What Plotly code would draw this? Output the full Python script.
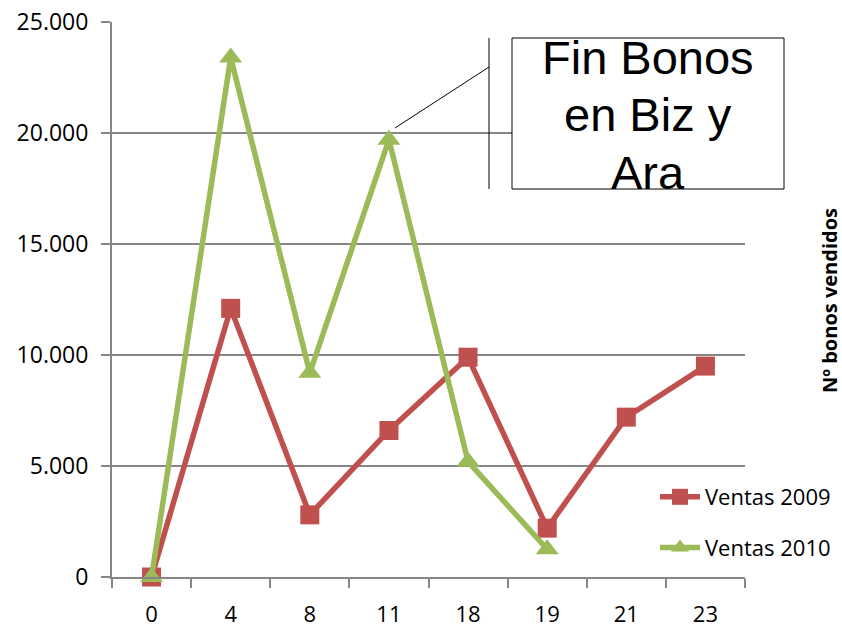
import plotly.graph_objects as go

categories = ["0", "4", "8", "11", "18", "19", "21", "23"]
ventas_2009 = [0, 12100, 2800, 6600, 9900, 2200, 7200, 9500]
ventas_2010 = [0, 23400, 9200, 19700, 5200, 1250, None, None]
y_tick_vals = [0, 5000, 10000, 15000, 20000, 25000]
y_tick_text = ["0", "5.000", "10.000", "15.000", "20.000", "25.000"]

W, H = 842, 630
# plot area in page pixels (reference): x 112..745, y 22..577
L, T = 112, 22
R, B = W - 745, H - 577
PW, PH = W - L - R, H - T - B

def px(x):
    return (x - L) / PW

def py(y):
    return (H - B - y) / PH

GRAY = "#868686"
RED = "#C0504D"
GREEN = "#9BBB59"

fig = go.Figure()
fig.add_trace(go.Scatter(
    x=categories, y=ventas_2009, name="Ventas 2009", mode="lines+markers",
    line=dict(color=RED, width=5.5), marker=dict(symbol="square", size=19, color=RED),
    cliponaxis=False, legendgroup="a"))
fig.add_trace(go.Scatter(
    x=categories, y=ventas_2010, name="Ventas 2010", mode="lines+markers",
    line=dict(color=GREEN, width=5.5), marker=dict(symbol="triangle-up", size=20, color=GREEN),
    cliponaxis=False, legendgroup="b"))

fig.update_layout(
    width=W, height=H, margin=dict(l=L, r=R, t=T, b=B, pad=0, autoexpand=False),
    paper_bgcolor="white", plot_bgcolor="white",
    font=dict(family="Open Sans", color="black"),
    showlegend=True,
    legend=dict(x=px(655), y=py(476), xanchor="left", yanchor="top",
                font=dict(size=22, family="Open Sans", color="black"),
                tracegroupgap=19, bgcolor="rgba(0,0,0,0)", itemwidth=40),
    xaxis=dict(type="category", range=[-0.5, len(categories) - 0.5],
               showline=True, linecolor=GRAY, linewidth=2,
               ticks="outside", ticklen=9, tickwidth=2, tickcolor=GRAY,
               tickson="boundaries", showgrid=False, automargin=False,
               ticklabeloverflow="allow",
               tickfont=dict(size=22, family="Open Sans", color="black"),
               ticklabelstandoff=17),
    yaxis=dict(range=[0, 25000], tickvals=y_tick_vals, ticktext=y_tick_text,
               showline=True, linecolor=GRAY, linewidth=2, automargin=False,
               ticklabeloverflow="allow",
               ticks="outside", ticklen=9, tickwidth=2, tickcolor=GRAY,
               showgrid=True, gridcolor=GRAY, gridwidth=2, zeroline=False,
               tickfont=dict(size=23, family="Open Sans", color="black"),
               ticklabelstandoff=8),
)

# Callout box and leader lines
fig.add_shape(type="rect", xref="paper", yref="paper",
              x0=px(512), x1=px(784), y0=py(189), y1=py(38),
              line=dict(color="black", width=1), fillcolor="white", layer="above")
fig.add_shape(type="line", xref="paper", yref="paper",
              x0=px(489), x1=px(489), y0=py(38), y1=py(189),
              line=dict(color="black", width=1))
fig.add_shape(type="line", xref="paper", yref="paper",
              x0=px(489), x1=px(395), y0=py(67), y1=py(128),
              line=dict(color="black", width=1))
box_lines = ["Fin Bonos", "en Biz y", "Ara"]
box_centers = [57, 115, 172]
for txt, cy in zip(box_lines, box_centers):
    fig.add_annotation(xref="paper", yref="paper", x=px(648), y=py(cy),
                       xanchor="center", yanchor="middle", showarrow=False,
                       text=txt, align="center",
                       font=dict(family="Liberation Sans", size=47, color="black"))

# Right-side axis title
fig.add_annotation(xref="paper", yref="paper", x=px(829), y=py(301),
                   xanchor="center", yanchor="middle", showarrow=False,
                   text="<b>Nº bonos vendidos</b>", textangle=-90,
                   font=dict(family="Open Sans", size=20, color="black"))

fig.write_html("out.html", config={"displayModeBar": False},
               post_script="document.body.style.margin='0';document.body.style.overflow='hidden';")
